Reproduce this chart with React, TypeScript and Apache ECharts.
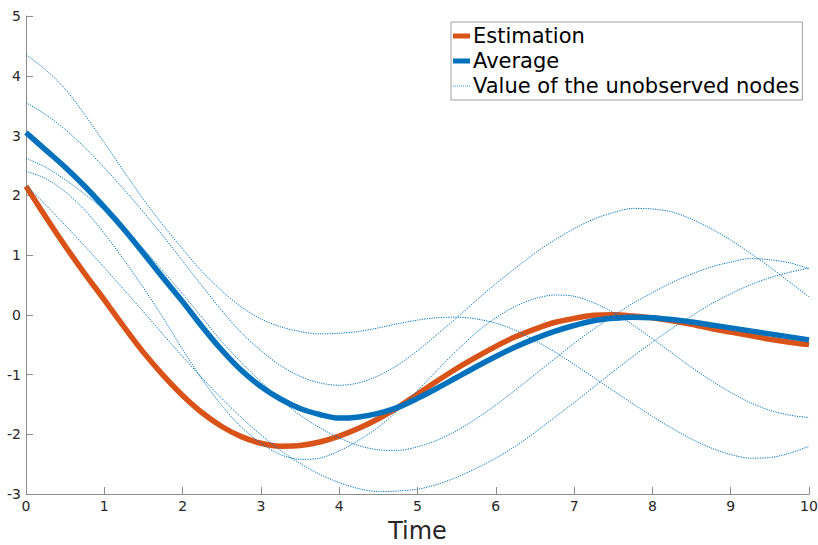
import React, { useEffect, useRef } from "react";
import * as echarts from "echarts";

const timeSteps = [
  0, 0.25, 0.5, 0.75, 1, 1.25, 1.5, 1.75, 2, 2.25, 2.5, 2.75, 3, 3.25, 3.5, 3.75, 4, 4.25, 4.5, 4.75,
  5, 5.25, 5.5, 5.75, 6, 6.25, 6.5, 6.75, 7, 7.25, 7.5, 7.75, 8, 8.25, 8.5, 8.75, 9, 9.25, 9.5, 9.75, 10,
];

const estimation = [
  2.15, 1.64, 1.15, 0.69, 0.25, -0.2, -0.63, -1.01, -1.35, -1.64, -1.87, -2.04, -2.15, -2.2, -2.19, -2.13, -2.03, -1.9, -1.74, -1.55,
  -1.33, -1.11, -0.9, -0.71, -0.53, -0.37, -0.24, -0.13, -0.06, -0.01, 0.0, -0.02, -0.05, -0.1, -0.16, -0.23, -0.29, -0.35, -0.41, -0.46, -0.5,
];
const average = [
  3.05, 2.76, 2.47, 2.15, 1.8, 1.43, 1.03, 0.62, 0.22, -0.2, -0.59, -0.93, -1.2, -1.41, -1.57, -1.67, -1.73, -1.71, -1.65, -1.55,
  -1.4, -1.23, -1.05, -0.87, -0.7, -0.54, -0.4, -0.28, -0.18, -0.1, -0.06, -0.04, -0.05, -0.08, -0.12, -0.17, -0.22, -0.27, -0.32, -0.37, -0.42,
];

const node1 = [
  4.35, 4.1, 3.78, 3.35, 2.88, 2.4, 1.93, 1.5, 1.1, 0.72, 0.4, 0.13, -0.07, -0.2, -0.28, -0.32, -0.31, -0.28, -0.22, -0.15,
  -0.09, -0.05, -0.04, -0.07, -0.14, -0.26, -0.43, -0.62, -0.83, -1.05, -1.27, -1.49, -1.7, -1.9, -2.08, -2.23, -2.34, -2.4, -2.39, -2.32, -2.2,
];
const node2 = [
  3.55, 3.35, 3.1, 2.8, 2.46, 2.1, 1.72, 1.32, 0.9, 0.48, 0.07, -0.3, -0.6, -0.85, -1.03, -1.14, -1.18, -1.14, -1.02, -0.84,
  -0.6, -0.33, -0.05, 0.24, 0.52, 0.78, 1.03, 1.25, 1.44, 1.6, 1.71, 1.78, 1.77, 1.72, 1.6, 1.44, 1.25, 1.03, 0.8, 0.55, 0.3,
];
const node3 = [
  2.62, 2.47, 2.26, 2.02, 1.75, 1.44, 1.1, 0.73, 0.35, -0.05, -0.45, -0.8, -1.12, -1.42, -1.68, -1.89, -2.06, -2.19, -2.26, -2.27,
  -2.21, -2.1, -1.94, -1.74, -1.51, -1.26, -1.0, -0.74, -0.48, -0.24, -0.02, 0.19, 0.37, 0.54, 0.68, 0.8, 0.88, 0.94, 0.92, 0.87, 0.77,
];
const node4 = [
  2.4, 2.28, 2.06, 1.75, 1.36, 0.92, 0.45, -0.05, -0.58, -1.08, -1.52, -1.88, -2.15, -2.34, -2.42, -2.4, -2.28, -2.1, -1.88, -1.6,
  -1.27, -0.93, -0.6, -0.3, -0.05, 0.14, 0.27, 0.33, 0.31, 0.2, 0.04, -0.17, -0.4, -0.64, -0.88, -1.1, -1.3, -1.47, -1.6, -1.68, -1.72,
];
const node5 = [
  2.16, 1.84, 1.5, 1.15, 0.79, 0.42, 0.05, -0.33, -0.7, -1.06, -1.4, -1.72, -2.01, -2.27, -2.49, -2.67, -2.81, -2.91, -2.96, -2.95,
  -2.92, -2.84, -2.72, -2.57, -2.4, -2.2, -1.97, -1.72, -1.47, -1.21, -0.95, -0.7, -0.46, -0.23, -0.02, 0.18, 0.35, 0.5, 0.62, 0.71, 0.78,
];
const nodes = [node1, node2, node3, node4, node5];

const legendNames = ["Estimation", "Average", "Value of the unobserved nodes"];
const xTicks = [0, 10, 1];
const yTicks = [-3, 5, 1];

const FONT = "DejaVu Sans";
const ORANGE = "#D95319";
const BLUE = "#0072BD";
const SMOOTH = 0.3;

const THICK_ICON = "path://M0,0H17V5H0Z";
let dots = "";
for (let i = 0; i < 17; i += 2) dots += `M${i},0H${i + 1}V1.2H${i}Z`;
const DOTTED_ICON = "path://" + dots;

function pairs(ys: number[]) {
  return timeSteps.map((t, i) => [t, ys[i]]);
}

export default function App() {
  const ref = useRef<HTMLDivElement>(null);
  useEffect(() => {
    document.body.style.margin = "0";
    if (!ref.current) return;
    const chart = echarts.init(ref.current, undefined, { renderer: "svg" });
    const nodeSeries = nodes.map((n) => ({
      name: legendNames[2],
      type: "line",
      data: pairs(n),
      smooth: SMOOTH,
      symbol: "none",
      lineStyle: { color: BLUE, width: 1, type: [1.2, 1.2] },
      itemStyle: { color: BLUE },
      z: 3,
    }));
    chart.setOption({
      animation: false,
      textStyle: { fontFamily: FONT },
      grid: { left: 26, right: 9, top: 16, bottom: 51, containLabel: false, outerBoundsMode: "none" },
      legend: {
        data: [
          { name: legendNames[0], icon: THICK_ICON, itemStyle: { color: ORANGE } },
          { name: legendNames[1], icon: THICK_ICON, itemStyle: { color: BLUE } },
          { name: legendNames[2], icon: DOTTED_ICON, itemStyle: { color: "#3a8fd0" } },
        ],
        orient: "vertical",
        left: 451,
        top: 22,
        itemWidth: 17,
        itemHeight: 14,
        itemGap: 1,
        padding: [2, 3, 2, 2],
        borderColor: "#a0a0a0",
        borderWidth: 1,
        backgroundColor: "#ffffff",
        textStyle: { fontFamily: FONT, fontSize: 21, lineHeight: 24, color: "#000", padding: [0, 0, 0, -2] },
        selectedMode: false,
      },
      xAxis: {
        type: "value",
        min: xTicks[0],
        max: xTicks[1],
        interval: xTicks[2],
        name: "Time",
        nameLocation: "middle",
        nameGap: 25,
        nameTextStyle: { fontFamily: FONT, fontSize: 24, color: "#262626" },
        axisLine: { show: true, onZero: false, lineStyle: { color: "#8c8c8c", width: 1 } },
        axisTick: { show: true, inside: true, length: 7, lineStyle: { color: "#8c8c8c" } },
        axisLabel: { fontFamily: FONT, fontSize: 14, color: "#262626", margin: 5 },
        splitLine: { show: false },
      },
      yAxis: {
        type: "value",
        min: yTicks[0],
        max: yTicks[1],
        interval: yTicks[2],
        axisLine: { show: true, onZero: false, lineStyle: { color: "#8c8c8c", width: 1 } },
        axisTick: { show: true, inside: true, length: 7, lineStyle: { color: "#8c8c8c" } },
        axisLabel: { fontFamily: FONT, fontSize: 14, color: "#262626", margin: 5 },
        splitLine: { show: false },
      },
      series: [
        {
          name: legendNames[0],
          type: "line",
          data: pairs(estimation),
          smooth: SMOOTH,
          symbol: "none",
          lineStyle: { color: ORANGE, width: 5.5 },
          itemStyle: { color: ORANGE },
          z: 2,
        },
        {
          name: legendNames[1],
          type: "line",
          data: pairs(average),
          smooth: SMOOTH,
          symbol: "none",
          lineStyle: { color: BLUE, width: 5.5 },
          itemStyle: { color: BLUE },
          z: 2,
        },
        ...nodeSeries,
      ],
    });
    return () => chart.dispose();
  }, []);
  return <div ref={ref} style={{ width: 818, height: 545 }} />;
}
